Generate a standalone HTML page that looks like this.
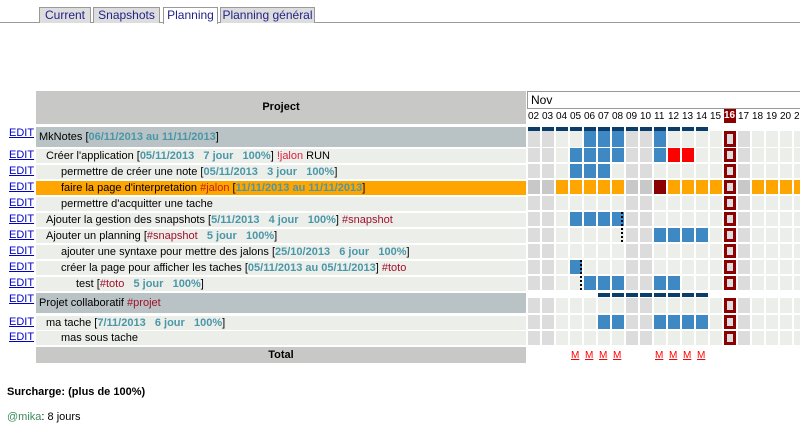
<!DOCTYPE html>
<html><head><meta charset="utf-8"><style>
body{margin:0;width:800px;height:426px;overflow:hidden;background:#fff;font-family:"Liberation Sans",sans-serif;font-size:11px;color:#000;position:relative}
.a{position:absolute;white-space:nowrap}
.tab{position:absolute;top:7px;height:15px;border:1px solid #999;border-bottom:none;background:#ddd;color:#228;font-size:12px;line-height:15px;text-align:center}
.e{position:absolute;left:9px;color:#00c;text-decoration:underline;font-size:11px}
.r{position:absolute;left:36px;width:490px;height:14px;background:#eceeea;line-height:14px}
.g{background:#b9c2c4}
.d{color:#4a97a8;font-weight:bold}
.h{color:#a0102a}
.c{position:absolute;width:12px}
.m{position:absolute;top:350px;color:#f00;font-size:10px;text-decoration:underline}
</style></head><body>
<div class="a" style="left:0;top:22px;width:800px;height:1px;background:#999"></div>
<div class="tab" style="left:39px;width:50px">Current</div>
<div class="tab" style="left:93px;width:65px">Snapshots</div>
<div class="tab" style="left:163px;width:53px;background:#fff;height:16px">Planning</div>
<div class="tab" style="left:220px;width:93px">Planning général</div>

<div class="a" style="left:36px;top:91px;width:490px;height:33px;background:#c8c9c6;text-align:center;line-height:33px;font-weight:bold">Project</div>
<div class="a" style="left:527px;top:91px;width:280px;height:16px;border:1px solid #999;line-height:16px;font-size:12px;padding-left:3px">Nov</div>

<div class="e" style="top:127px">EDIT</div><div class="r g" style="top:127px;height:20px;line-height:20px;padding-left:3px;width:487px">MkNotes [<span class="d">06/11/2013 au 11/11/2013</span>]</div>
<div class="e" style="top:149px">EDIT</div><div class="r" style="top:149px;padding-left:10px;width:480px">Créer l'application [<span class="d">05/11/2013 &nbsp; 7 jour &nbsp; 100%</span>] <span style="color:#e02040">!jalon</span> RUN</div>
<div class="e" style="top:165px">EDIT</div><div class="r" style="top:165px;padding-left:25px;width:465px">permettre de créer une note [<span class="d">05/11/2013 &nbsp; 3 jour &nbsp; 100%</span>]</div>
<div class="e" style="top:181px">EDIT</div><div class="r" style="top:181px;padding-left:25px;width:465px;background:#ffa500">faire la page d'interpretation <span class="h" style="color:#c02010">#jalon</span> [<span class="d">11/11/2013 au 11/11/2013</span>]</div>
<div class="e" style="top:197px">EDIT</div><div class="r" style="top:197px;padding-left:25px;width:465px">permettre d'acquitter une tache</div>
<div class="e" style="top:213px">EDIT</div><div class="r" style="top:213px;padding-left:10px;width:480px">Ajouter la gestion des snapshots [<span class="d">5/11/2013 &nbsp; 4 jour &nbsp; 100%</span>] <span class="h">#snapshot</span></div>
<div class="e" style="top:229px">EDIT</div><div class="r" style="top:229px;padding-left:10px;width:480px">Ajouter un planning [<span class="h">#snapshot</span> &nbsp; <span class="d">5 jour &nbsp; 100%</span>]</div>
<div class="e" style="top:245px">EDIT</div><div class="r" style="top:245px;padding-left:25px;width:465px">ajouter une syntaxe pour mettre des jalons [<span class="d">25/10/2013 &nbsp; 6 jour &nbsp; 100%</span>]</div>
<div class="e" style="top:261px">EDIT</div><div class="r" style="top:261px;padding-left:25px;width:465px">créer la page pour afficher les taches [<span class="d">05/11/2013 au 05/11/2013</span>] <span class="h">#toto</span></div>
<div class="e" style="top:277px">EDIT</div><div class="r" style="top:277px;padding-left:40px;width:450px">test [<span class="h">#toto</span> &nbsp; <span class="d">5 jour &nbsp; 100%</span>]</div>
<div class="e" style="top:293px">EDIT</div><div class="r g" style="top:293px;height:20px;line-height:20px;padding-left:3px;width:487px">Projet collaboratif <span class="h">#projet</span></div>
<div class="e" style="top:316px">EDIT</div><div class="r" style="top:316px;padding-left:10px;width:480px">ma tache [<span class="d">7/11/2013 &nbsp; 6 jour &nbsp; 100%</span>]</div>
<div class="e" style="top:331px">EDIT</div><div class="r" style="top:331px;padding-left:25px;width:465px">mas sous tache</div>
<div class="a" style="left:36px;top:347px;width:490px;height:16px;background:#c8c9c6;text-align:center;line-height:16px;font-weight:bold">Total</div>

<div id="ch"></div>
<span class="m" style="left:571px">M</span><span class="m" style="left:585px">M</span><span class="m" style="left:599px">M</span><span class="m" style="left:613px">M</span>
<span class="m" style="left:655px">M</span><span class="m" style="left:669px">M</span><span class="m" style="left:683px">M</span><span class="m" style="left:697px">M</span>

<div class="a" style="left:7px;top:386px;font-weight:bold">Surcharge: (plus de 100%)</div>
<div class="a" style="left:7px;top:411px"><span style="color:#3a8a5a">@mika</span>: 8 jours</div>

<div class="a" style="left:528px;top:111px;font-size:10px;letter-spacing:0">
<span style="position:absolute;left:0">02</span><span style="position:absolute;left:14px">03</span><span style="position:absolute;left:28px">04</span><span style="position:absolute;left:42px">05</span><span style="position:absolute;left:56px">06</span><span style="position:absolute;left:70px">07</span><span style="position:absolute;left:84px">08</span><span style="position:absolute;left:98px">09</span><span style="position:absolute;left:112px">10</span><span style="position:absolute;left:126px">11</span><span style="position:absolute;left:140px">12</span><span style="position:absolute;left:154px">13</span><span style="position:absolute;left:168px">14</span><span style="position:absolute;left:182px">15</span><span style="position:absolute;left:196px;background:#8b0000;color:#fff;font-weight:bold;width:12px;top:-2px;height:14px;line-height:14px">16</span><span style="position:absolute;left:210px">17</span><span style="position:absolute;left:224px">18</span><span style="position:absolute;left:238px">19</span><span style="position:absolute;left:252px">20</span><span style="position:absolute;left:266px">21</span>
</div>
<script>
var h='';
var rows=[
 {t:131,hgt:16,bar:[2,14],blue:[6,7,8,11]},
 {t:148,blue:[5,6,7,8,11],red:[12,13]},
 {t:164,blue:[5,6,7]},
 {t:180,orange:1,dk:[11]},
 {t:196},
 {t:212,blue:[5,6,7,8]},
 {t:228,blue:[11,12,13,14]},
 {t:244},
 {t:260,blue:[5]},
 {t:276,blue:[6,7,8,11,12]},
 {t:298,hgt:15,bar:[7,14],barT:293},
 {t:315,blue:[7,8,11,12,13,14]},
 {t:331}
];
var we={2:1,3:1,9:1,10:1,16:1,17:1};
rows.forEach(function(r){
 var hg=r.hgt||14;
 if(r.bar){var bt=r.barT||127;for(var d=r.bar[0];d<=r.bar[1];d++)h+='<div class="c" style="left:'+(528+14*(d-2))+'px;top:'+bt+'px;height:4px;background:#0b3d6b"></div>';}
 for(var d=2;d<=21;d++){
  var c=we[d]?'#dcdcdc':'#eceeea';
  if(r.orange)c=we[d]?'#c8c8c8':'#ffa500';
  if(r.blue&&r.blue.indexOf(d)>=0)c='#3e88c3';
  if(r.red&&r.red.indexOf(d)>=0)c='#ff0000';
  if(r.dk&&r.dk.indexOf(d)>=0)c='#8b0000';
  var x=528+14*(d-2);
  if(d==16)h+='<div class="c" style="left:'+x+'px;top:'+r.t+'px;height:'+(hg-6)+'px;width:6px;border:3px solid #8b0000;background:#dcdcdc"></div>';
  else h+='<div class="c" style="left:'+x+'px;top:'+r.t+'px;height:'+hg+'px;background:'+c+'"></div>';
 }
});
h+='<div class="a" style="left:621px;top:212px;height:30px;border-left:2px dotted #000"></div>';
h+='<div class="a" style="left:580px;top:260px;height:30px;border-left:2px dotted #000"></div>';
document.getElementById('ch').innerHTML=h;
</script>
</body></html>
